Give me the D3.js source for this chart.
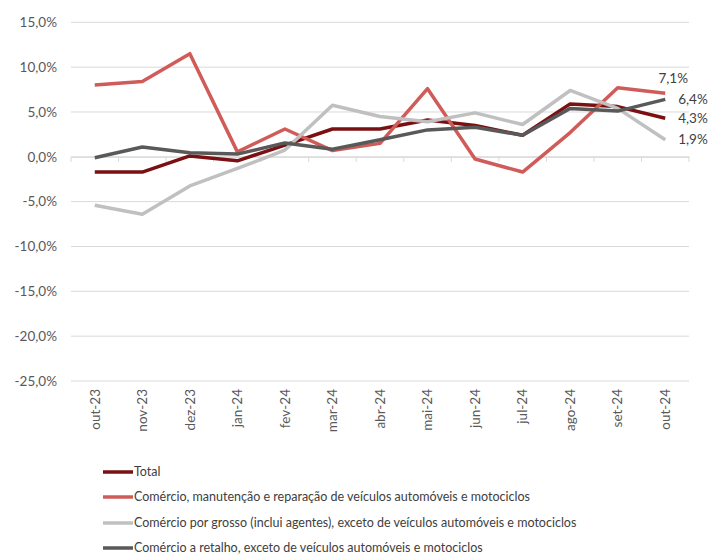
<!DOCTYPE html>
<html>
<head>
<meta charset="utf-8">
<script src="https://cdn.jsdelivr.net/npm/d3@7"></script>
<style>
  html, body { margin: 0; padding: 0; background: #fff; }
  svg { display: block; font-family: Lato, "Open Sans", sans-serif; }
</style>
</head>
<body>
<svg id="chart" width="710" height="555"></svg>
<script>
// Monthly categories
const months = ["out-23","nov-23","dez-23","jan-24","fev-24","mar-24","abr-24",
                "mai-24","jun-24","jul-24","ago-24","set-24","out-24"];

// Year-on-year rates (%)
const total      = [-1.7, -1.7, 0.1, -0.45, 1.3, 3.1, 3.1, 4.1, 3.5, 2.4, 5.9, 5.6, 4.3];
const veiculos   = [8.0, 8.4, 11.5, 0.55, 3.1, 0.7, 1.5, 7.6, -0.25, -1.7, 2.7, 7.7, 7.1];
const grosso     = [-5.4, -6.4, -3.25, -1.3, 0.75, 5.75, 4.5, 3.9, 4.9, 3.6, 7.4, 5.4, 1.9];
const retalho    = [-0.1, 1.1, 0.45, 0.3, 1.55, 0.85, 1.9, 3.0, 3.3, 2.4, 5.4, 5.1, 6.4];

const seriesNames = [
  "Total",
  "Comércio, manutenção e reparação de veículos automóveis e motociclos",
  "Comércio por grosso (inclui agentes), exceto de veículos automóveis e motociclos",
  "Comércio a retalho, exceto de veículos automóveis e motociclos"
];
const yTicks = [15, 10, 5, 0, -5, -10, -15, -20, -25];

const series = [
  { name: seriesNames[0], values: total,    color: "#7a1012" },
  { name: seriesNames[1], values: veiculos, color: "#d05c5a" },
  { name: seriesNames[2], values: grosso,   color: "#c0c0c0" },
  { name: seriesNames[3], values: retalho,  color: "#595959" }
];

const svg = d3.select("#chart");
const plotLeft = 71, plotRight = 689, plotTop = 22.3, plotBottom = 381;

const x = d3.scaleBand().domain(months).range([plotLeft, plotRight]).padding(0);
const y = d3.scaleLinear().domain([-25, 15]).range([plotBottom, plotTop]);
const cx = m => x(m) + x.bandwidth() / 2;

const fmt = v => d3.format(".1f")(v).replace(".", ",").replace("−", "-") + "%";

// horizontal gridlines
svg.append("g")
  .selectAll("line")
  .data(yTicks)
  .join("line")
  .attr("x1", plotLeft).attr("x2", plotRight)
  .attr("y1", d => y(d)).attr("y2", d => y(d))
  .attr("stroke", "#d9d9d9").attr("stroke-width", 1);

// y axis labels
svg.append("g")
  .selectAll("text")
  .data(yTicks)
  .join("text")
  .attr("x", 57).attr("y", d => y(d))
  .attr("dy", "0.35em")
  .attr("text-anchor", "end")
  .attr("font-size", 13.5)
  .attr("fill", "#595959")
  .text(d => fmt(d));

// category axis at zero with boundary tick marks
const xAxis = d3.axisBottom(x).tickSize(0).tickFormat("");
const gx = svg.append("g").attr("transform", `translate(0,${y(0)})`).call(xAxis);
gx.select(".domain").attr("stroke", "#d9d9d9");
gx.append("g").selectAll("line")
  .data(d3.range(months.length + 1))
  .join("line")
  .attr("x1", i => plotLeft + i * x.bandwidth())
  .attr("x2", i => plotLeft + i * x.bandwidth())
  .attr("y1", 0).attr("y2", 5)
  .attr("stroke", "#d9d9d9");

// rotated month labels below the plot
svg.append("g")
  .selectAll("text")
  .data(months)
  .join("text")
  .attr("transform", d => `translate(${cx(d)},${plotBottom + 8}) rotate(-90)`)
  .attr("dy", "0.35em")
  .attr("text-anchor", "end")
  .attr("font-size", 13.5)
  .attr("fill", "#595959")
  .text(d => d);

// lines
const line = d3.line()
  .x((d, i) => cx(months[i]))
  .y(d => y(d));

svg.append("g")
  .selectAll("path")
  .data(series)
  .join("path")
  .attr("d", s => line(s.values))
  .attr("fill", "none")
  .attr("stroke", s => s.color)
  .attr("stroke-width", 3.5)
  .attr("stroke-linejoin", "round");

// end-of-series value labels
const lastIdx = months.length - 1;
const lastX = cx(months[lastIdx]);
const labels = svg.append("g").attr("font-size", 13.5).attr("fill", "#404040");
series.forEach((s, k) => {
  const v = s.values[lastIdx];
  if (k === 1) {
    labels.append("text")
      .attr("x", lastX + 8).attr("y", y(v) - 15)
      .attr("dy", "0.35em").attr("text-anchor", "middle")
      .text(fmt(v));
  } else {
    labels.append("text")
      .attr("x", lastX + 13).attr("y", y(v))
      .attr("dy", "0.35em").attr("text-anchor", "start")
      .text(fmt(v));
  }
});

// legend
const legend = svg.append("g");
const rows = [472, 497, 523, 548];
series.forEach((s, k) => {
  legend.append("line")
    .attr("x1", 103).attr("x2", 133)
    .attr("y1", rows[k]).attr("y2", rows[k])
    .attr("stroke", s.color).attr("stroke-width", 3.5);
  legend.append("text")
    .attr("x", 134).attr("y", rows[k])
    .attr("dy", "0.35em")
    .attr("font-size", 12.5)
    .attr("fill", "#404040")
    .text(s.name);
});
</script>
</body>
</html>
